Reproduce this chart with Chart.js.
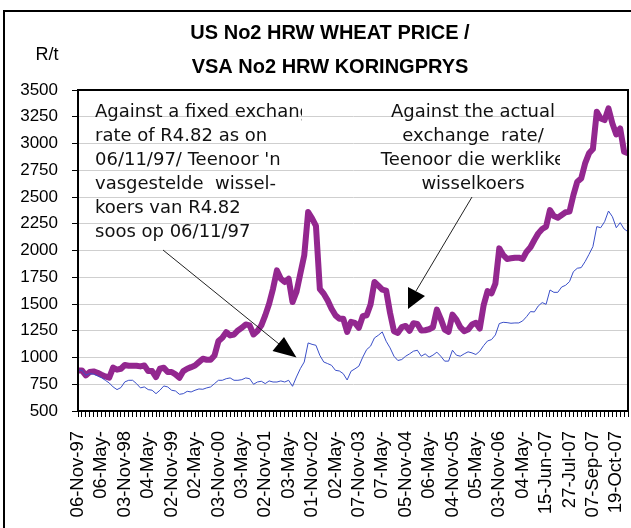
<!DOCTYPE html>
<html>
<head>
<meta charset="utf-8">
<script src="https://cdn.jsdelivr.net/npm/chart.js@4/dist/chart.umd.min.js"></script>
<style>
  body { margin: 0; background: #fff; }
  #wrap { width: 631px; height: 528px; }
</style>
</head>
<body>
<div id="wrap"><canvas id="wheatChart" width="631" height="528"></canvas></div>
<script>
// Shown x tick labels (every 6th category)
const tickLabels = [
  '06-Nov-97', '06-May-', '03-Nov-98', '04-May-', '02-Nov-99', '02-May-',
  '03-Nov-00', '03-May-', '02-Nov-01', '03-May-', '01-Nov-02', '02-May-',
  '07-Nov-03', '07-May-', '05-Nov-04', '06-May-', '04-Nov-05', '05-May-',
  '03-Nov-06', '04-May-', '15-Jun-07', '27-Jul-07', '07-Sep-07', '19-Oct-07'
];

// R/t against the actual exchange rate
const actualRate = [
  879, 879, 833, 864, 870, 857, 839, 823, 811, 905,
  886, 895, 930, 923, 923, 923, 917, 926, 873, 873,
  817, 895, 905, 864, 864, 842, 811, 873, 895, 910,
  926, 957, 988, 979, 979, 1019, 1153, 1184, 1237, 1206,
  1215, 1253, 1278, 1309, 1300, 1215, 1247, 1300, 1394, 1503,
  1643, 1814, 1736, 1705, 1736, 1518, 1612, 1783, 1954, 2359,
  2300, 2230, 1640, 1596, 1534, 1456, 1394, 1363, 1363, 1240,
  1333, 1324, 1277, 1386, 1395, 1495, 1706, 1672, 1635, 1625,
  1417, 1246, 1230, 1283, 1295, 1250, 1320, 1314, 1252, 1255,
  1264, 1283, 1448, 1361, 1261, 1240, 1401, 1355, 1283, 1246,
  1261, 1308, 1324, 1270, 1490, 1620, 1600, 1690, 2020, 1958,
  1921, 1927, 1933, 1933, 1921, 1989, 2030, 2098, 2160, 2201,
  2223, 2378, 2322, 2307, 2332, 2357, 2363, 2518, 2643, 2674,
  2814, 2908, 2948, 3297, 3234, 3219, 3328, 3188, 3085, 3141,
  2923, 2908
];

// R/t against a fixed rate of R4.82
const fixedRate = [
  881, 881, 834, 850, 844, 828, 812, 787, 762, 725,
  700, 719, 772, 787, 787, 756, 716, 725, 700, 694,
  662, 694, 734, 725, 694, 687, 656, 662, 684, 678,
  694, 706, 703, 716, 725, 756, 787, 787, 802, 809,
  787, 787, 793, 809, 802, 750, 771, 778, 756, 781,
  771, 771, 781, 771, 787, 731, 818, 896, 958, 1136,
  1123, 1114, 1020, 958, 943, 927, 880, 874, 849, 790,
  872, 894, 919, 1003, 1074, 1106, 1183, 1208, 1239, 1152,
  1090, 1012, 972, 981, 1012, 1034, 1059, 1068, 1012, 1034,
  1003, 1022, 1050, 1012, 966, 966, 1068, 1022, 1012, 1034,
  1053, 1043, 1028, 1059, 1112, 1155, 1167, 1211, 1317, 1329,
  1326, 1320, 1323, 1323, 1342, 1382, 1429, 1426, 1482, 1513,
  1497, 1631, 1609, 1609, 1659, 1675, 1709, 1802, 1834, 1840,
  1896, 1964, 2036, 2223, 2213, 2269, 2369, 2316, 2213, 2260,
  2201, 2176
];

const categories = actualRate.map((_, i) => i);

const fontFamily = '"Liberation Sans", Arial, sans-serif';

// frame, titles, notes and arrows
const decorations = {
  id: 'decorations',
  beforeDraw(chart) {
    const c = chart.ctx;
    c.save();
    c.fillStyle = '#fff';
    c.fillRect(0, 0, chart.width, chart.height);
    c.restore();
  },
  afterDraw(chart) {
    const c = chart.ctx;
    const a = chart.chartArea;
    c.save();
    c.strokeStyle = '#000';
    c.lineWidth = 2;
    c.strokeRect(4, 11, 700, 600);
    c.strokeRect(a.left, a.top, a.right - a.left, a.bottom - a.top);

    c.fillStyle = '#000';
    c.textAlign = 'center';
    c.textBaseline = 'middle';
    c.font = 'bold 20px ' + fontFamily;
    c.fillText('US No2 HRW WHEAT PRICE /', 330, 33);
    c.fillText('VSA No2 HRW KORINGPRYS', 330, 67);
    c.font = '18px ' + fontFamily;
    c.fillText('R/t', 47, 55);

    c.font = '18px "DejaVu Sans", sans-serif';
    c.fillStyle = '#111';
    const left = ['Against a fixed exchange', 'rate of R4.82 as on', "06/11/97/ Teenoor 'n",
      'vasgestelde  wissel-', 'koers van R4.82', 'soos op 06/11/97'];
    c.save();
    c.beginPath();
    c.rect(80, 95, 222, 160);
    c.clip();
    c.textAlign = 'left';
    left.forEach((t, k) => c.fillText(t, 95, 112 + 24 * k));
    c.restore();

    const right = ['Against the actual', 'exchange  rate/', 'Teenoor die werklike', 'wisselkoers'];
    c.save();
    c.beginPath();
    c.rect(360, 95, 200, 110);
    c.clip();
    c.textAlign = 'center';
    right.forEach((t, k) => c.fillText(t, 473, 112 + 24 * k));
    c.restore();

    c.strokeStyle = '#222';
    c.lineWidth = 1;
    c.beginPath();
    c.moveTo(163, 250); c.lineTo(279, 344);
    c.moveTo(472, 197); c.lineTo(416, 291);
    c.stroke();
    c.fillStyle = '#000';
    c.beginPath();
    c.moveTo(272.5, 351); c.lineTo(284, 337); c.lineTo(296.5, 357.5); c.closePath();
    c.moveTo(408, 287); c.lineTo(425, 296); c.lineTo(408, 309); c.closePath();
    c.fill();
    c.restore();
  }
};

new Chart(document.getElementById('wheatChart'), {
  type: 'line',
  data: {
    labels: categories,
    datasets: [
      {
        label: 'fixed',
        data: fixedRate,
        borderColor: '#3a4fc8',
        borderWidth: 1,
        pointRadius: 0,
        tension: 0
      },
      {
        label: 'actual',
        data: actualRate,
        borderColor: '#93278f',
        borderWidth: 6,
        borderJoinStyle: 'round',
        pointRadius: 0,
        tension: 0
      }
    ]
  },
  options: {
    responsive: false,
    animation: false,
    layout: { padding: { top: 90, right: 3, left: 0, bottom: 0 } },
    plugins: {
      legend: { display: false },
      tooltip: { enabled: false }
    },
    scales: {
      x: {
        offset: false,
        grid: { drawOnChartArea: false, drawTicks: true, tickLength: 6, tickColor: '#000' },
        border: { color: '#000', width: 2 },
        ticks: {
          autoSkip: false,
          minRotation: 90,
          maxRotation: 90,
          padding: 14,
          color: '#000',
          font: { family: fontFamily, size: 18.5 },
          callback: (v, i) => (i % 6 === 0 ? tickLabels[i / 6] : '')
        },
        afterFit(s) { s.height = 117; s.paddingLeft = 0; s.paddingRight = 0; }
      },
      y: {
        min: 500,
        max: 3500,
        grid: { color: '#cfcfcf', tickLength: 6, tickColor: '#000' },
        border: { color: '#000', width: 2 },
        ticks: {
          stepSize: 250,
          padding: 14,
          color: '#000',
          font: { family: fontFamily, size: 17 },
          callback: v => String(v)
        },
        afterFit(s) { s.width = 78; s.paddingTop = 0; s.paddingBottom = 0; }
      }
    }
  },
  plugins: [decorations]
});
</script>
</body>
</html>
